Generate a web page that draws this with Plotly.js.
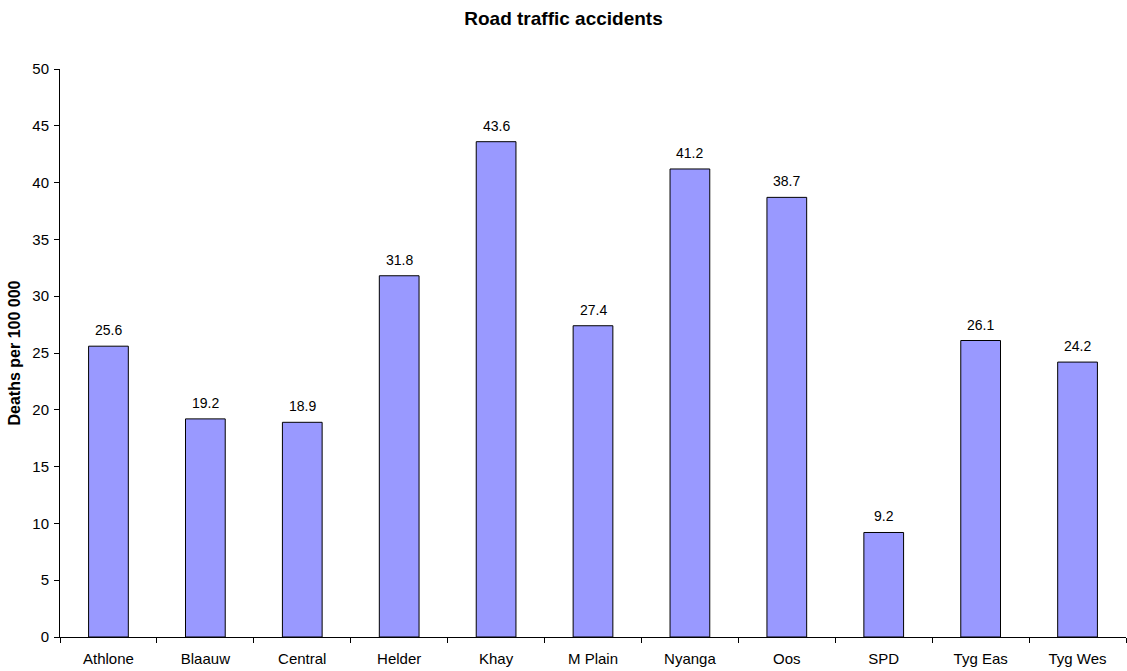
<!DOCTYPE html>
<html>
<head>
<meta charset="utf-8">
<script src="https://cdn.plot.ly/plotly-3.0.1.min.js"></script>
<style>
  html, body { margin: 0; padding: 0; background: #fff; }
  #chart { width: 1127px; height: 671px; }
</style>
</head>
<body>
<div id="chart"></div>
<script>
// Road traffic deaths per 100 000 by sub-district
const districts = ["Athlone", "Blaauw", "Central", "Helder", "Khay", "M Plain", "Nyanga", "Oos", "SPD", "Tyg Eas", "Tyg Wes"];
const deathRates = [25.6, 19.2, 18.9, 31.8, 43.6, 27.4, 41.2, 38.7, 9.2, 26.1, 24.2];
const yTicks = [0, 5, 10, 15, 20, 25, 30, 35, 40, 45, 50];

const fontFamily = "Liberation Sans, Arial, sans-serif";

const trace = {
  type: "bar",
  x: districts,
  y: deathRates,
  width: 0.41,
  marker: { color: "#9999FF", line: { color: "#000000", width: 1 } },
  hoverinfo: "x+y"
};

// value labels above each bar
const labels = districts.map((d, i) => ({
  x: d,
  y: deathRates[i],
  text: deathRates[i].toFixed(1),
  showarrow: false,
  xanchor: "center",
  yanchor: "bottom",
  yshift: 6,
  font: { family: fontFamily, size: 14, color: "#000" }
}));

const layout = {
  width: 1127,
  height: 671,
  margin: { l: 60, r: 1, t: 69, b: 34 },
  paper_bgcolor: "#fff",
  plot_bgcolor: "#fff",
  showlegend: false,
  font: { family: fontFamily, size: 15, color: "#000" },
  title: {
    text: "<b>Road traffic accidents</b>",
    font: { family: fontFamily, size: 19, color: "#000" },
    x: 0.5,
    xanchor: "center",
    y: 0.973,
    yanchor: "middle"
  },
  xaxis: {
    type: "category",
    range: [-0.5, districts.length - 0.5],
    showgrid: false,
    zeroline: false,
    showline: true,
    linecolor: "#000",
    linewidth: 1,
    ticks: "outside",
    tickson: "boundaries",
    ticklen: 5,
    tickcolor: "#000",
    ticklabelstandoff: 8,
    tickfont: { family: fontFamily, size: 15, color: "#000" },
    fixedrange: true
  },
  yaxis: {
    range: [0, 50],
    tickvals: yTicks,
    ticktext: yTicks.map(String),
    showgrid: false,
    zeroline: false,
    showline: true,
    linecolor: "#000",
    linewidth: 1,
    ticks: "outside",
    ticklen: 5,
    tickcolor: "#000",
    ticklabelstandoff: 2,
    tickfont: { family: fontFamily, size: 15, color: "#000" },
    title: {
      text: "<b>Deaths per 100 000</b>",
      font: { family: fontFamily, size: 16, color: "#000" },
      standoff: 7
    },
    fixedrange: true
  },
  annotations: labels
};

Plotly.newPlot("chart", [trace], layout, { displayModeBar: false, staticPlot: true });
</script>
</body>
</html>
